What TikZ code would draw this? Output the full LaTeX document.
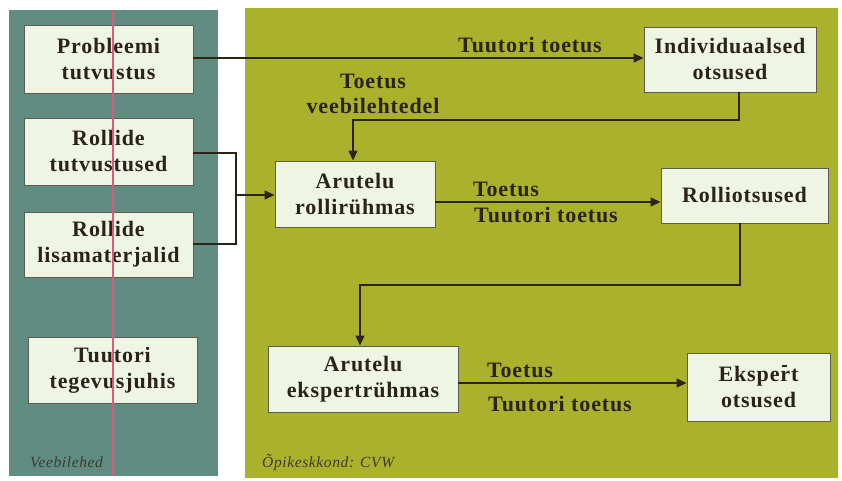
\documentclass[tikz,border=0pt]{standalone}
\usepackage{fontspec}
\setmainfont{Liberation Serif}[LetterSpace=4]
\usetikzlibrary{arrows.meta}
\definecolor{leftpanel}{HTML}{608C82}
\definecolor{rightpanel}{HTML}{AAB22D}
\definecolor{boxfill}{HTML}{EEF6E3}
\definecolor{ink}{HTML}{2B2416}
\definecolor{pinkline}{HTML}{E0587A}
\tikzset{
  box/.style={draw=ink!75, line width=0.9pt, fill=boxfill, text=ink, align=center,
    font=\bfseries\fontsize{22}{26}\selectfont, inner sep=0pt},
  lbl/.style={text=ink, font=\bfseries\fontsize{22}{25}\selectfont, align=center, inner sep=0pt},
  paneltitle/.style={text=ink!90, font=\itshape\fontsize{15.5}{17}\selectfont, anchor=base west, inner sep=0pt},
  link/.style={draw=ink, line width=1.3pt},
  arr/.style={link, -{Triangle[length=10pt,width=9pt]}}
}
\begin{document}
\begin{tikzpicture}[x=1pt,y=-1pt]
\useasboundingbox (0,0) rectangle (842,481);
\fill[white] (0,0) rectangle (842,481);
% the two panels
\fill[leftpanel] (9,10) rectangle (218,476);
\fill[rightpanel] (245,8) rectangle (838,478);
\node[paneltitle] (vb) at (30,467) {Veebilehed};
\node[paneltitle] (ok) at (262,467) {Õpikeskkond: CVW};
% left column boxes
\node[box, minimum width=169pt, minimum height=68pt] (prob) at (108.5,59) {Probleemi\\tutvustus};
\node[box, minimum width=169pt, minimum height=67pt] (rtut) at (108.5,151.5) {Rollide\\tutvustused};
\node[box, minimum width=169pt, minimum height=65pt] (rlis) at (108.5,244.5) {Rollide\\lisamaterjalid};
\node[box, minimum width=169pt, minimum height=66pt] (tuut) at (112.5,370) {Tuutori\\tegevusjuhis};
% right panel boxes
\node[box, minimum width=172pt, minimum height=65pt] (indiv) at (730,59.5) {Individuaalsed\\otsused};
\node[box, minimum width=160pt, minimum height=66pt] (arol) at (355,194) {Arutelu\\rollirühmas};
\node[box, minimum width=167pt, minimum height=55pt] (rolo) at (744.5,195.5) {Rolliotsused};
\node[box, minimum width=190pt, minimum height=66pt] (aeks) at (363,379) {Arutelu\\ekspertrühmas};
\node[box, minimum width=143pt, minimum height=68pt] (ekso) at (758.5,387) {Ekspert\\otsused};
\draw[ink, line width=1.2pt] (782,366) -- (787,366);
% guide line across the left column
\draw[pinkline, line width=1.2pt] (113,10) -- (113,476);
% junction of the two role inputs
\coordinate (jn) at (236,195);
% connectors
\draw[arr] (prob.east |- 0,58) -- (indiv.west |- 0,58);
\node[lbl] (l1) at (530,45) {Tuutori toetus};
\node[lbl] (l2) at (373,94) {Toetus\\veebilehtedel};
\draw[arr] (indiv.south -| 739,0) |- (353,120) -- (arol.north -| 353,0);
\draw[link] (rtut.east |- 0,153) -| (jn);
\draw[link] (rlis.east |- 0,244) -| (jn);
\draw[arr] (jn) -- (arol.west |- jn);
\draw[arr] (arol.east |- 0,202) -- (rolo.west |- 0,202);
\node[lbl] (l3) at (506,189) {Toetus};
\node[lbl] (l4) at (546,215) {Tuutori toetus};
\draw[arr] (rolo.south -| 740,0) |- (360,285) -- (aeks.north -| 360,0);
\draw[arr] (aeks.east |- 0,383) -- (ekso.west |- 0,383);
\node[lbl] (l5) at (520,370) {Toetus};
\node[lbl] (l6) at (560,404) {Tuutori toetus};
\end{tikzpicture}
\end{document}
